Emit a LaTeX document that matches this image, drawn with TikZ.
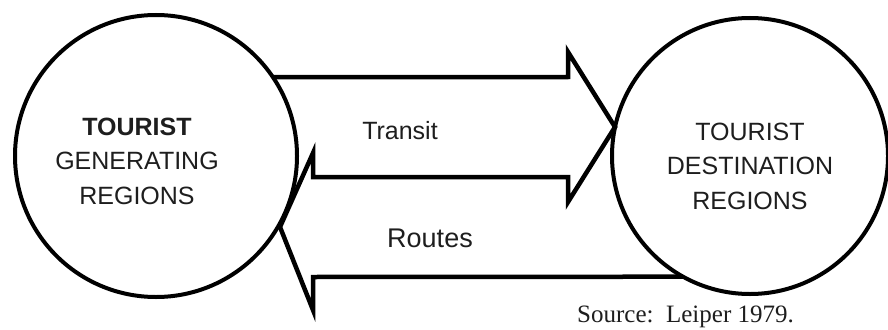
\documentclass[tikz,border=0pt]{standalone}
\usepackage{fontspec}
\setmainfont{Liberation Serif}
\setsansfont{Liberation Sans}
\definecolor{ink}{HTML}{1E1E1E}
\begin{document}
\begin{tikzpicture}[x=1pt,y=-1pt,
  region/.style={circle,draw=black,line width=4pt,inner sep=0pt,outer sep=0pt},
  label/.style={font=\sffamily\fontsize{25}{34.5}\selectfont,text=ink,align=center,inner sep=0pt},
  flow/.style={draw=black,line width=4.5pt,line join=miter}]
\useasboundingbox (0,0) rectangle (888,329);
\fill[white] (0,0) rectangle (888,329);
\node[region,minimum size=282pt] (L) at (156,156) {};
\node[region,minimum size=276pt] (R) at (750,156) {};
\node[label] (Ltxt) at (137,161) {\textbf{TOURIST}\\GENERATING\\REGIONS};
\node[label] (Rtxt) at (750,166) {TOURIST\\DESTINATION\\REGIONS};
\node[label] (transit) at (400,131) {Transit};
\node[label,font=\sffamily\fontsize{27}{30}\selectfont] (routes) at (430,238) {Routes};
\node[font=\fontsize{25}{28}\selectfont,text=ink,inner sep=0pt,anchor=west] (src) at (577,317) {Source:\ \ Leiper 1979.};
\coordinate (a1) at (568,77);
\coordinate (a2) at (568,52);
\coordinate (tip) at (615,127);
\coordinate (a3) at (568,202);
\coordinate (a4) at (568,177);
\coordinate (b1) at (313,177);
\coordinate (b2) at (313,153);
\coordinate (btip) at (280,227);
\coordinate (b3) at (313,310);
\coordinate (b4) at (313,277);
\draw[flow] (L.34) -- (a1) -- (a2) -- (tip) -- (a3) -- (a4) -- (b1) -- (b2) -- (btip) -- (b3) -- (b4) -- (R.241);
\end{tikzpicture}
\end{document}
